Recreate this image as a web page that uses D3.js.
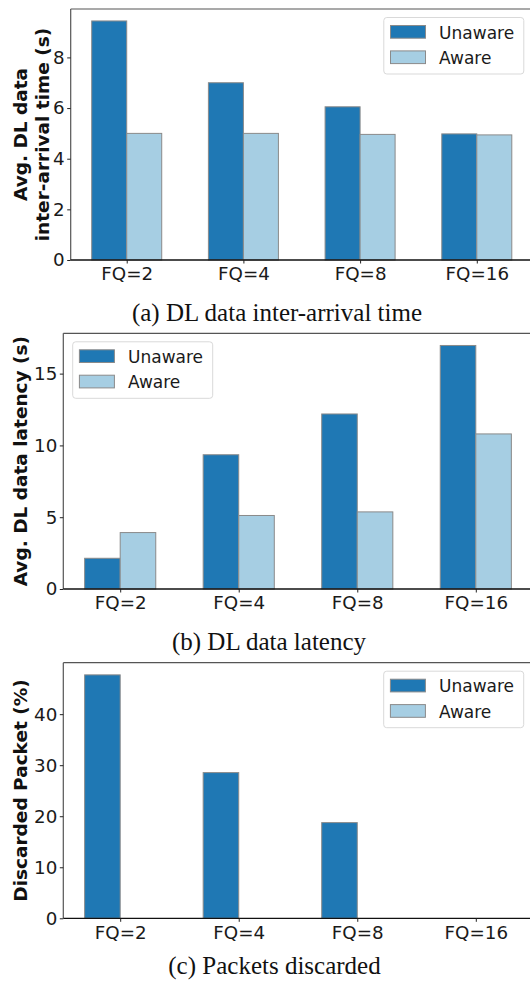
<!DOCTYPE html>
<meta charset="utf-8">
<style>
    body { margin: 0; background: #fff; }
    text { font-family: "DejaVu Sans", sans-serif; }
    .caption { font-family: "Liberation Serif", "Times New Roman", serif; }
</style>
<svg width="530" height="983" id="fig"></svg>
<script src="https://cdn.jsdelivr.net/npm/d3@7"></script>
<script>

var categories = ["FQ=2", "FQ=4", "FQ=8", "FQ=16"];
var seriesNames = ["Unaware", "Aware"];

// (a) inter-arrival time (s)
var interUnaware = [9.44, 7.0, 6.05, 4.98];
var interAware = [5.0, 5.0, 4.96, 4.94];
var interTicks = [0, 2, 4, 6, 8];

// (b) latency (s)
var latUnaware = [2.14, 9.35, 12.19, 16.96];
var latAware = [3.93, 5.12, 5.37, 10.8];
var latTicks = [0, 5, 10, 15];

// (c) discarded packets (%)
var discUnaware = [47.7, 28.55, 18.75, 0];
var discAware = [0, 0, 0, 0];
var discTicks = [0, 10, 20, 30, 40];

var colors = ["#1f78b4", "#a6cee3"];
var edge = "#8a8a8a";

var svg = d3.select("#fig");

function drawPanel(o) {
    var g = svg.append("g");

    var x = d3.scaleLinear()
        .domain([-0.48, 3.48])
        .range([o.left, o.right]);

    var ymax = d3.max(o.unaware.concat(o.aware)) * 1.05;
    var y = d3.scaleLinear()
        .domain([0, ymax])
        .range([o.bottom, o.top]);

    var bw = x(0.3) - x(0);

    [o.unaware, o.aware].forEach(function(vals, s) {
        g.append("g").selectAll("rect")
            .data(vals)
            .enter()
            .append("rect")
            .attr("x", function(d, i) { return x(i - 0.3 + s * 0.3); })
            .attr("y", function(d) { return y(d); })
            .attr("width", bw)
            .attr("height", function(d) { return y(0) - y(d); })
            .attr("fill", colors[s])
            .attr("stroke", edge)
            .attr("stroke-width", 1);
    });

    // spines (right one falls outside the crop)
    g.append("line")
        .attr("x1", o.left).attr("x2", o.left)
        .attr("y1", o.top).attr("y2", o.bottom)
        .attr("stroke", "#555").attr("stroke-width", 1.2);
    g.append("line")
        .attr("x1", o.left).attr("x2", o.right)
        .attr("y1", o.top).attr("y2", o.top)
        .attr("stroke", "#555").attr("stroke-width", 1.2);
    g.append("line")
        .attr("x1", o.left).attr("x2", o.right)
        .attr("y1", o.bottom).attr("y2", o.bottom)
        .attr("stroke", "#111").attr("stroke-width", 1.3);

    var yAxis = d3.axisLeft(y).tickValues(o.ticks).tickSize(3.5).tickPadding(2.5);
    var xAxis = d3.axisBottom(x).tickValues([0, 1, 2, 3])
        .tickFormat(function(i) { return categories[i]; })
        .tickSize(3.5).tickPadding(4);

    var ya = g.append("g")
        .attr("transform", "translate(" + o.left + ",0)")
        .call(yAxis);
    var xa = g.append("g")
        .attr("transform", "translate(0," + o.bottom + ")")
        .call(xAxis);

    [ya, xa].forEach(function(a) {
        a.attr("font-size", null).attr("font-family", null);
        a.select(".domain").remove();
        a.selectAll("line").attr("stroke", "#222");
        a.selectAll("text")
            .style("font-family", "DejaVu Sans")
            .style("font-size", "18.3px")
            .attr("fill", "#1a1a1a");
    });

    // y label
    var cy = (o.top + o.bottom) / 2;
    o.ylabel.forEach(function(t, k) {
        g.append("text")
            .attr("transform", "translate(" + (27 + k * 21.5) + "," + cy + ") rotate(-90)")
            .attr("text-anchor", "middle")
            .style("font-size", "18.5px")
            .style("font-weight", "bold")
            .attr("fill", "#111")
            .text(t);
    });

    // legend
    var lw = 140, lh = 56.5;
    var lx = o.legend === "right" ? o.right - 9 - lw : o.left + 9.4;
    var ly = o.top + 8.5;
    var lg = g.append("g").attr("transform", "translate(" + lx + "," + ly + ")");
    lg.append("rect")
        .attr("width", lw).attr("height", lh).attr("rx", 3)
        .attr("fill", "#fff").attr("fill-opacity", 0.8)
        .attr("stroke", "#d9d9d9").attr("stroke-width", 1);
    var items = lg.selectAll("g.item")
        .data(seriesNames)
        .enter()
        .append("g")
        .attr("transform", function(d, i) { return "translate(6.7," + (8 + i * 25.4) + ")"; });
    items.append("rect")
        .attr("width", 35).attr("height", 12.7)
        .attr("fill", function(d, i) { return colors[i]; })
        .attr("stroke", edge).attr("stroke-width", 1);
    items.append("text")
        .attr("x", 48.6).attr("y", 13)
        .style("font-size", "17px")
        .attr("fill", "#1a1a1a")
        .text(function(d) { return d; });

    // caption
    svg.append("text")
        .attr("class", "caption")
        .attr("x", o.capX).attr("y", o.capY)
        .attr("text-anchor", "middle")
        .style("font-size", "25px")
        .attr("fill", "#111")
        .text(o.caption);
}

drawPanel({
    top: 9, bottom: 260, left: 70.7, right: 532.8,
    unaware: interUnaware, aware: interAware, ticks: interTicks,
    ylabel: ["Avg. DL data", "inter-arrival time (s)"],
    legend: "right",
    caption: "(a) DL data inter-arrival time", capX: 277, capY: 321
});

drawPanel({
    top: 333.3, bottom: 589, left: 63.3, right: 532.7,
    unaware: latUnaware, aware: latAware, ticks: latTicks,
    ylabel: ["Avg. DL data latency (s)"],
    legend: "left",
    caption: "(b) DL data latency", capX: 269, capY: 650
});

drawPanel({
    top: 662.7, bottom: 918.3, left: 63.3, right: 532.7,
    unaware: discUnaware, aware: discAware, ticks: discTicks,
    ylabel: ["Discarded Packet (%)"],
    legend: "right",
    caption: "(c) Packets discarded", capX: 274.5, capY: 974
});

</script>
